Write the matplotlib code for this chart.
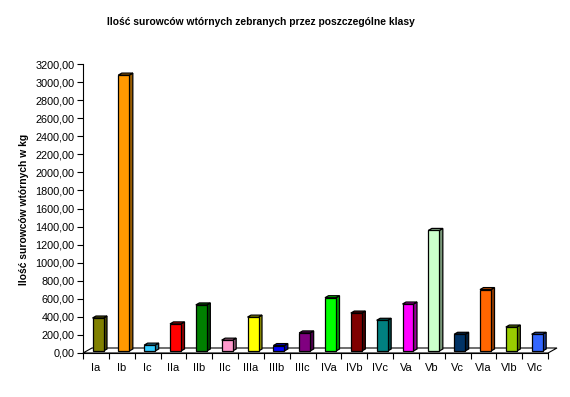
import matplotlib
matplotlib.use("Agg")
import matplotlib.pyplot as plt
from matplotlib.patches import Polygon
import numpy as np

categories = ["Ia", "Ib", "Ic", "IIa", "IIb", "IIc", "IIIa", "IIIb", "IIIc",
              "IVa", "IVb", "IVc", "Va", "Vb", "Vc", "VIa", "VIb", "VIc"]
values = [365, 3055, 65, 300, 510, 120, 375, 60, 200,
          590, 420, 340, 520, 1335, 185, 680, 265, 185]
colors = ["#808000", "#FF9900", "#33CCFF", "#FF0000", "#008000", "#FF99CC",
          "#FFFF00", "#0000FF", "#800080", "#00FF00", "#800000", "#008080",
          "#FF00FF", "#CCFFCC", "#003366", "#FF6600", "#99CC00", "#3366FF"]
yticks = list(range(0, 3201, 200))

plt.rcParams['font.family'] = ['Liberation Sans', 'DejaVu Sans']

W, H = 570, 397
fig = plt.figure(figsize=(W / 100, H / 100), dpi=100)
ax_l, ax_r, ax_b, ax_t = 83, 548, 353, 64
ax = fig.add_axes([ax_l / W, (H - ax_b) / H, (ax_r - ax_l) / W, (ax_b - ax_t) / H])
n = len(categories)
ymax = 3200
ax.set_xlim(0, n)
ax.set_ylim(0, ymax)

px_x = n / (ax_r - ax_l)      # data units per pixel (x)
px_y = ymax / (ax_b - ax_t)   # data units per pixel (y)

# floor
fdx, fdy = 9 * px_x, 5 * px_y
floor = Polygon([(0, 0), (n, 0), (n + fdx, fdy), (fdx, fdy)], closed=True,
                facecolor="white", edgecolor="black", lw=0.8, clip_on=False, zorder=1)
ax.add_patch(floor)


def shade(c, f):
    r, g, b = matplotlib.colors.to_rgb(c)
    return (r * f, g * f, b * f)


# bars
base = 2 * px_y
bdx, bdy = 3.5 * px_x, 2 * px_y
for i, (v, c) in enumerate(zip(values, colors)):
    x0 = i + 9.5 * px_x
    x1 = i + 20.5 * px_x
    y0 = base
    y1 = base + v
    # side
    ax.add_patch(Polygon([(x1, y0), (x1 + bdx, y0 + bdy), (x1 + bdx, y1 + bdy), (x1, y1)],
                         closed=True, facecolor=shade(c, 0.6), edgecolor="black",
                         lw=0.9, zorder=3, clip_on=False))
    # top
    ax.add_patch(Polygon([(x0, y1), (x1, y1), (x1 + bdx, y1 + bdy), (x0 + bdx, y1 + bdy)],
                         closed=True, facecolor=shade(c, 0.8), edgecolor="black",
                         lw=0.9, zorder=3, clip_on=False))
    # front
    ax.add_patch(Polygon([(x0, y0), (x1, y0), (x1, y1), (x0, y1)],
                         closed=True, facecolor=c, edgecolor="black",
                         lw=0.9, zorder=4, clip_on=False))

for s in ["top", "right"]:
    ax.spines[s].set_visible(False)
for s in ["left", "bottom"]:
    ax.spines[s].set_linewidth(0.8)
    ax.spines[s].set_zorder(5)

ax.set_yticks(yticks)
ax.set_yticklabels([f"{t:.2f}".replace(".", ",") for t in yticks], fontsize=7.8)
ax.set_xticks(np.arange(0, n + 1), minor=False)
ax.set_xticklabels([])
ax.set_xticks(np.arange(n) + 0.5, minor=True)
ax.set_xticklabels(categories, minor=True, fontsize=8)
ax.tick_params(axis="x", which="major", direction="out", length=4, width=0.8)
ax.tick_params(axis="x", which="minor", length=0, pad=7)
ax.tick_params(axis="y", direction="out", length=4, width=0.8, pad=2)

fig.text(261 / W, 1 - 22 / H, "Ilość surowców wtórnych zebranych przez poszczególne klasy",
         ha="center", va="center", fontsize=7.4, fontweight="bold")
fig.text(24 / W, 1 - 209 / H, "Ilość surowców wtórnych w kg", rotation=90,
         ha="center", va="center", fontsize=7.4, fontweight="bold")

fig.savefig("out.png", dpi=100)
